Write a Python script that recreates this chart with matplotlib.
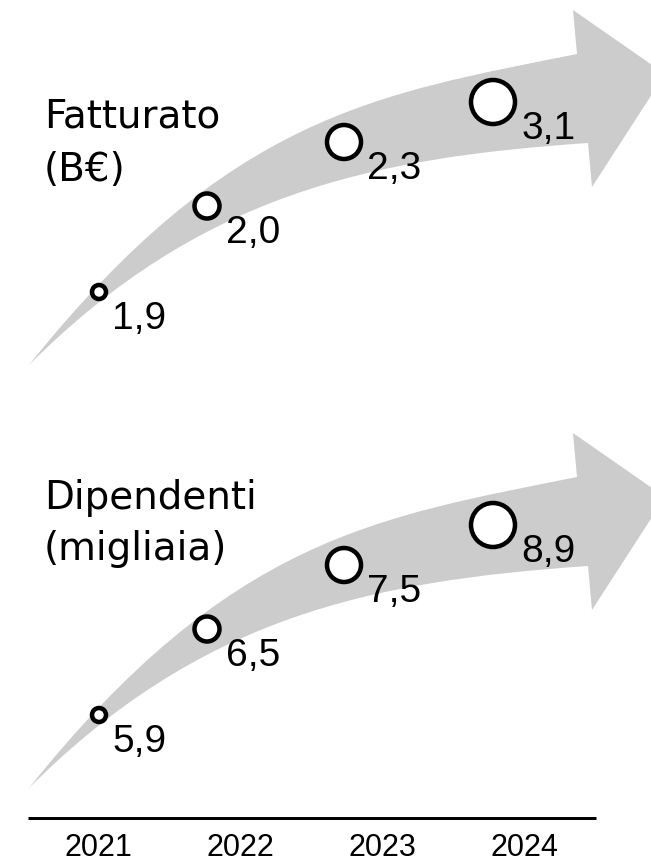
import numpy as np
import matplotlib
matplotlib.use("Agg")
import matplotlib.pyplot as plt
from matplotlib.path import Path
from matplotlib.patches import PathPatch

years = [2021, 2022, 2023, 2024]
fatturato = [1.9, 2.0, 2.3, 3.1]
dipendenti = [5.9, 6.5, 7.5, 8.9]
series = [fatturato, dipendenti]
titles = [["Fatturato", "(B€)"], ["Dipendenti", "(migliaia)"]]

# layout in pixels (y goes down), second panel is the first shifted down
panel_dy = [0, 423]
circle_x = [99, 207, 344, 493]
circle_y = [293, 207, 143, 103]
circle_d = [14, 25, 34, 44]   # marker diameter in px
edge_px = 4.5
title_base = [[127, 181], [509, 560]]
gray = "#cccccc"


def draw_arrow(ax, dy):
    """
    curved gray arrow, upper and lower edges are cubic curves meeting at the tail.
    """
    verts = [(29, 366), (229, 116), (377, 95), (577, 55),
             (573, 11), (665, 75), (592, 188), (588, 144),
             (368, 159), (199, 196), (29, 366), (29, 366)]
    codes = [Path.MOVETO, Path.CURVE4, Path.CURVE4, Path.CURVE4,
             Path.LINETO, Path.LINETO, Path.LINETO, Path.LINETO,
             Path.CURVE4, Path.CURVE4, Path.CURVE4, Path.CLOSEPOLY]
    verts = [(x, y + dy) for x, y in verts]
    ax.add_patch(PathPatch(Path(verts, codes), facecolor=gray, edgecolor="none", zorder=1))


def fmt(v):
    return ("%.1f" % v).replace(".", ",")


fig = plt.figure(figsize=(6.51, 8.62), dpi=100)
ax = fig.add_axes([0, 0, 1, 1])
ax.set_xlim(0, 651)
ax.set_ylim(862, 0)
ax.axis("off")

px2pt = 72 / fig.dpi

for k, values in enumerate(series):
    dy = panel_dy[k]
    draw_arrow(ax, dy)

    ys = [y + dy for y in circle_y]
    ax.scatter(circle_x, ys, s=[(d * px2pt) ** 2 for d in circle_d],
               facecolor="white", edgecolor="black", linewidths=edge_px * px2pt, zorder=3)

    for i, v in enumerate(values):
        r = (circle_d[i] + edge_px) / 2
        ax.text(circle_x[i] + r + 4, ys[i] + 36, fmt(v), fontsize=28,
                family="Liberation Sans", va="baseline", ha="left", zorder=4)

    for j, line in enumerate(titles[k]):
        ax.text(44, title_base[k][j], line, fontsize=28, family="DejaVu Sans",
                va="baseline", ha="left")

# bottom axis with years
ax.plot([28, 596], [819, 819], color="black", lw=3 * px2pt, solid_capstyle="butt")
year_x = 98 + (np.array(years) - years[0]) * 142.3
for x, y in zip(year_x, years):
    ax.text(x, 856, str(y), fontsize=22, family="Liberation Sans", ha="center", va="baseline")

fig.savefig("out.png", dpi=100)
